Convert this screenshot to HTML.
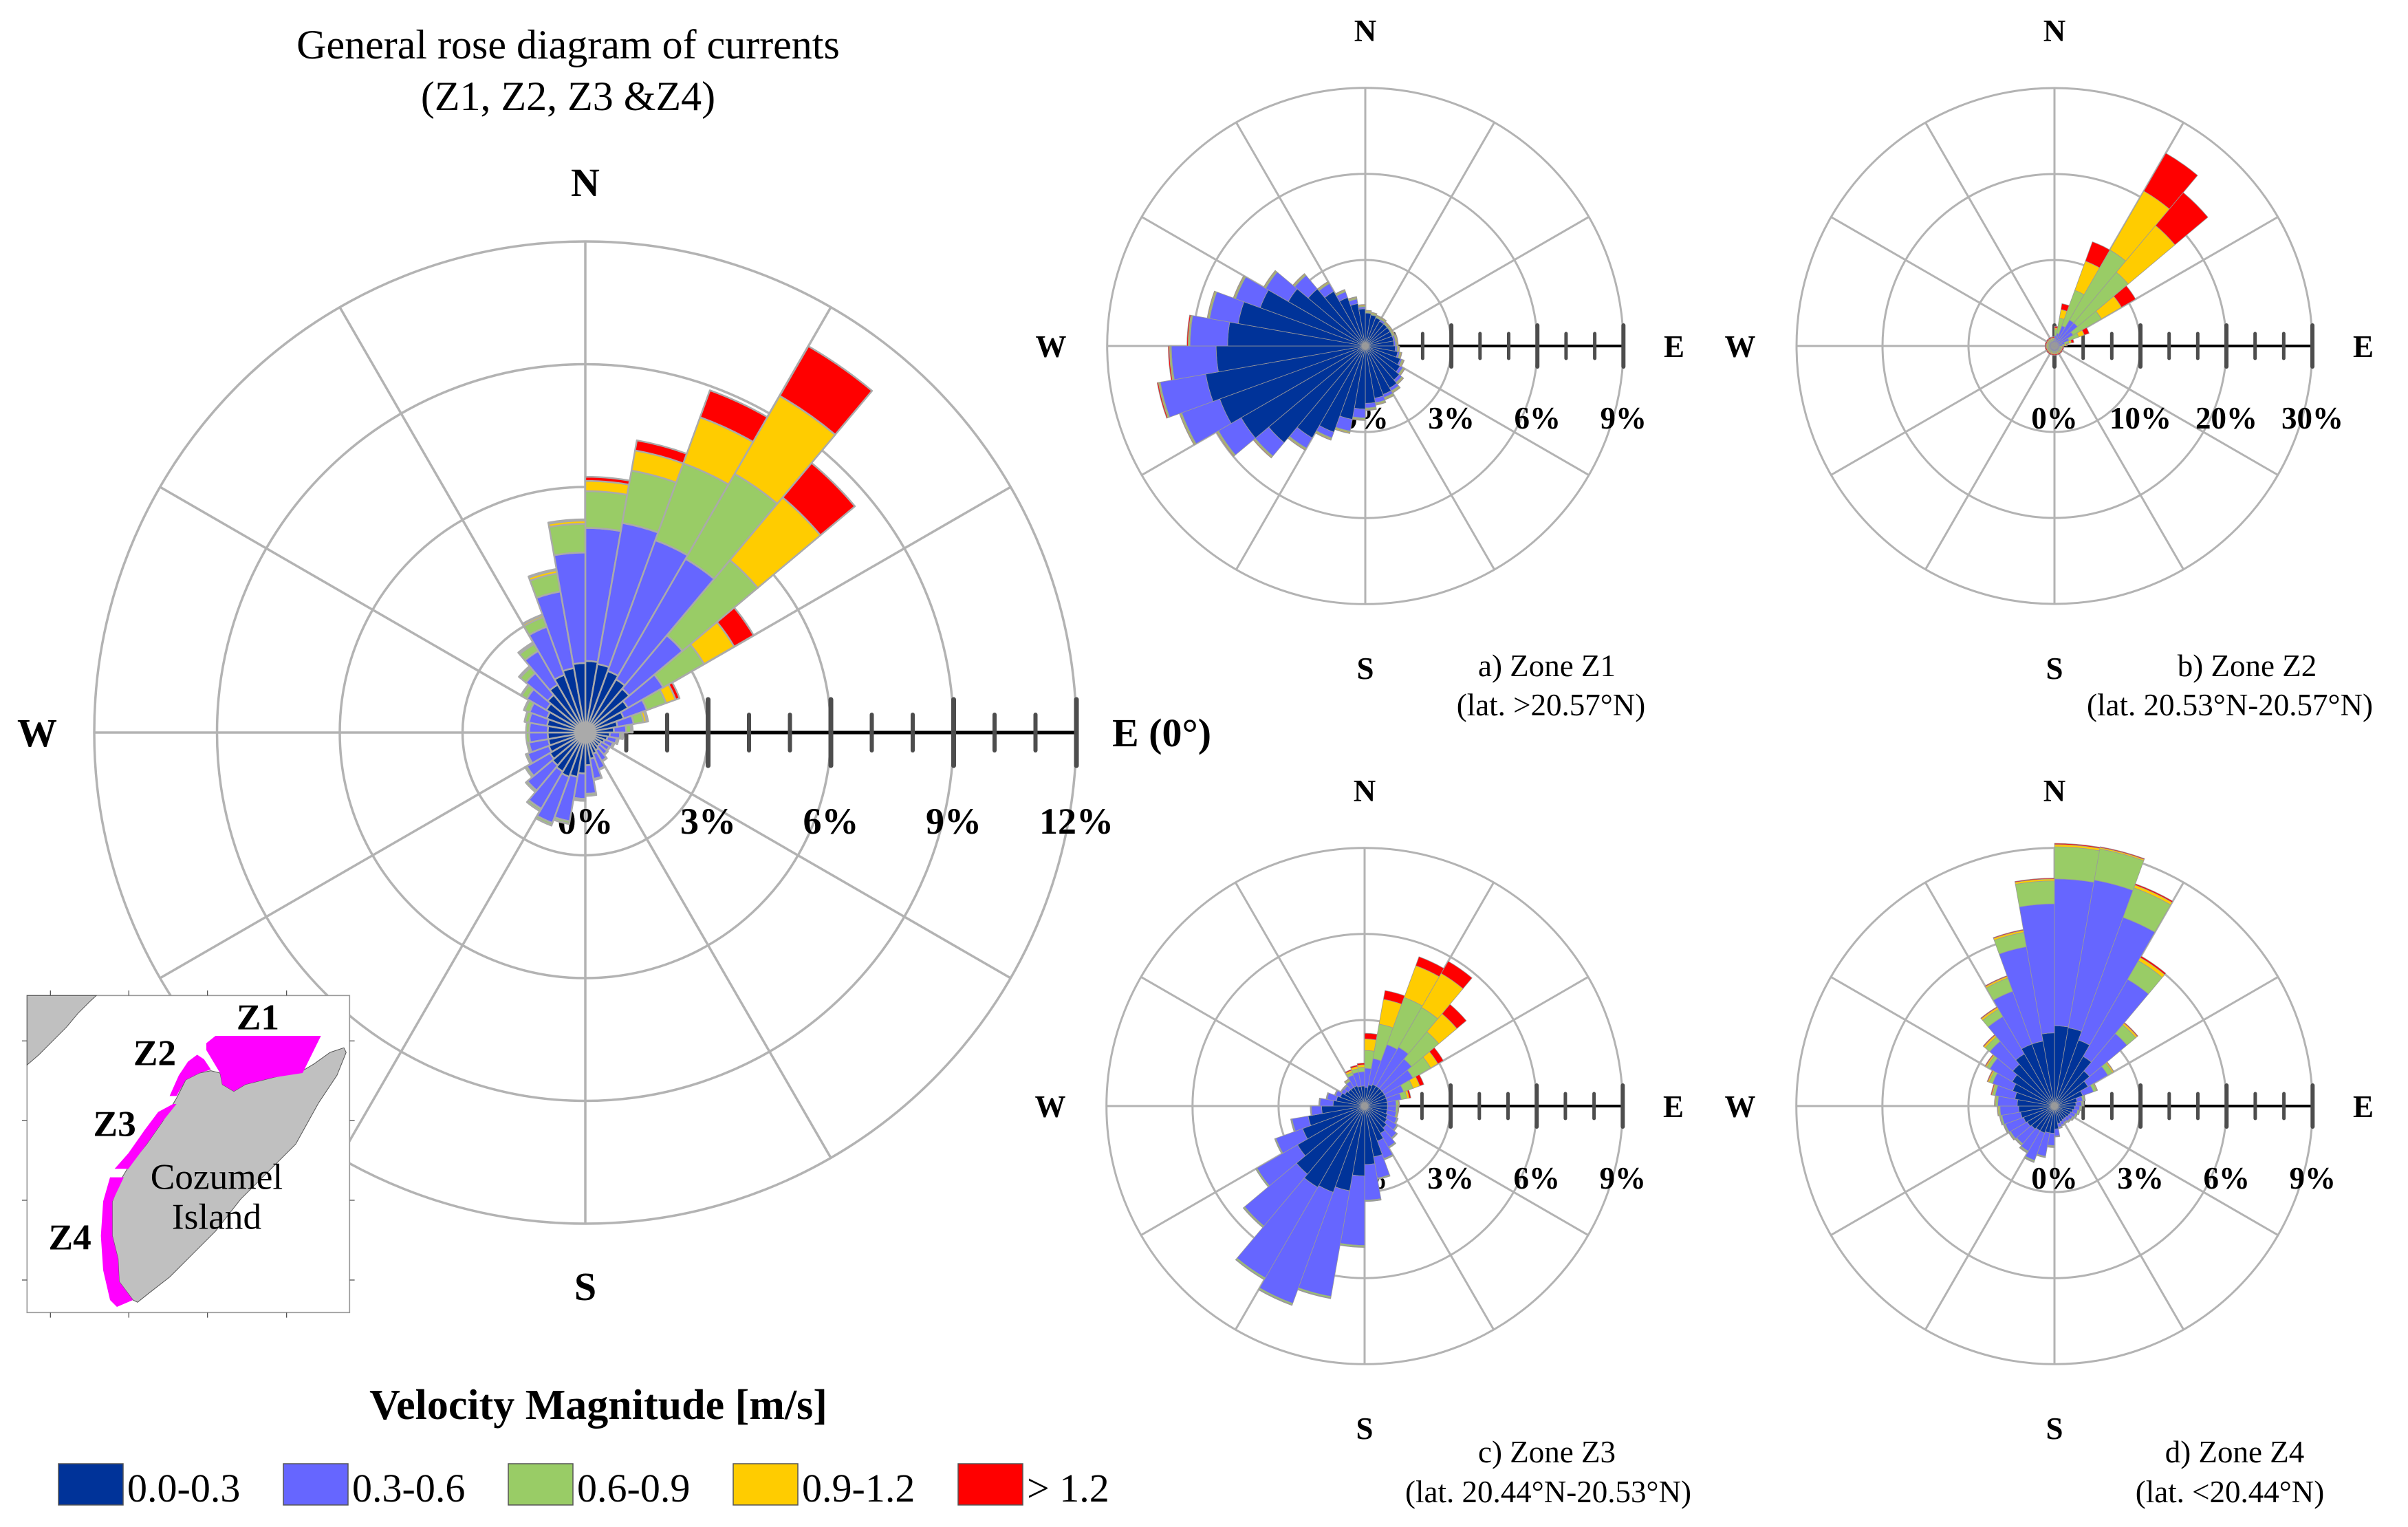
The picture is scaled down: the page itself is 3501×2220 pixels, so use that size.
<!DOCTYPE html>
<html><head><meta charset="utf-8"><style>
html,body{margin:0;padding:0;background:#fff;}
svg, svg text{font-family:"Liberation Serif","Times New Roman",serif;}
</style></head><body>
<svg id="fig" width="3501" height="2215" viewBox="0 0 3501 2215" xmlns="http://www.w3.org/2000/svg" font-family="'Liberation Serif', 'Times New Roman', serif">
<rect x="0" y="0" width="3501" height="2215" fill="#fff"/>
<g id="layer-grid"></g>
<g id="layer-text"></g>
<g id="layer-bars"></g>
<text x="826" y="85" font-size="60" font-family="'Liberation Serif', serif" text-anchor="middle">General rose diagram of currents</text>
<text x="826" y="160" font-size="60" font-family="'Liberation Serif', serif" text-anchor="middle">(Z1, Z2, Z3 &amp;Z4)</text>

<g transform="translate(30,1430) scale(0.3333)">
<rect x="28" y="52" width="1407" height="1383" fill="#fff" stroke="#999" stroke-width="5"/>
<polygon points="28,52 330,52 300,80 250,130 200,190 140,250 80,310 28,355" fill="#c0c0c0" stroke="#555" stroke-width="3"/>
<polygon points="1410,280 1420,300 1380,400 1300,520 1200,700 1100,800 960,940 850,1080 750,1180 650,1280 560,1350 510,1390 490,1380 430,1300 425,1200 400,1100 400,950 440,850 470,800 550,700 620,600 680,500 720,420 780,390 830,380 870,390 880,440 930,470 980,440 1100,410 1230,380 1280,350 1350,300" fill="#c0c0c0" stroke="#555" stroke-width="3"/>
<polygon points="850,228 1310,228 1230,390 1100,410 980,440 930,470 880,440 870,390 810,290 810,260" fill="#ff00ff"/>
<polygon points="770,310 800,330 830,375 780,390 720,420 680,490 650,490 690,400 730,340" fill="#ff00ff"/>
<polygon points="665,525 680,525 620,600 550,700 470,808 410,808 470,740 540,640 600,560" fill="#ff00ff"/>
<polygon points="390,845 450,845 400,950 400,1100 425,1200 430,1300 490,1380 420,1410 390,1380 360,1250 350,1100 360,950" fill="#ff00ff"/>
<g stroke="#555" stroke-width="4">
<line x1="130" y1="30" x2="130" y2="52"/><line x1="472" y1="30" x2="472" y2="52"/><line x1="815" y1="30" x2="815" y2="52"/><line x1="1160" y1="30" x2="1160" y2="52"/>
<line x1="130" y1="1435" x2="130" y2="1457"/><line x1="472" y1="1435" x2="472" y2="1457"/><line x1="815" y1="1435" x2="815" y2="1457"/><line x1="1160" y1="1435" x2="1160" y2="1457"/>
<line x1="6" y1="250" x2="28" y2="250"/><line x1="6" y1="598" x2="28" y2="598"/><line x1="6" y1="945" x2="28" y2="945"/><line x1="6" y1="1293" x2="28" y2="1293"/>
<line x1="1435" y1="250" x2="1457" y2="250"/><line x1="1435" y1="598" x2="1457" y2="598"/><line x1="1435" y1="945" x2="1457" y2="945"/><line x1="1435" y1="1293" x2="1457" y2="1293"/>
</g>
<text x="1035" y="200" font-size="160" font-family="'Liberation Serif', serif" font-weight="bold" text-anchor="middle">Z1</text>
<text x="585" y="355" font-size="160" font-family="'Liberation Serif', serif" font-weight="bold" text-anchor="middle">Z2</text>
<text x="410" y="665" font-size="160" font-family="'Liberation Serif', serif" font-weight="bold" text-anchor="middle">Z3</text>
<text x="215" y="1160" font-size="160" font-family="'Liberation Serif', serif" font-weight="bold" text-anchor="middle">Z4</text>
<text x="855" y="895" font-size="160" font-family="'Liberation Serif', serif" text-anchor="middle">Cozumel</text>
<text x="855" y="1070" font-size="160" font-family="'Liberation Serif', serif" text-anchor="middle">Island</text>
</g>

<g>
<text x="870" y="2063" font-size="62" font-family="'Liberation Serif', serif" font-weight="bold" text-anchor="middle">Velocity Magnitude [m/s]</text>
<g id="legend-items"></g>
</g>
</svg>
<script>
// ---- data: percent of occurrences per 10-degree direction bin (bin i = [10i,10i+10] deg from N, clockwise) ----
const classLabels = ['0.0-0.3','0.3-0.6','0.6-0.9','0.9-1.2','> 1.2'];
const classColors = ['#003399','#6666ff','#99cc66','#ffcc00','#ff0000'];

// General rose: per-class percentages
const mainC1 = [1.75,1.7,1.6,1.5,1.4,1.2,1.0,0.8,0.7,0.6,0.55,0.5,0.45,0.45,0.5,0.55,0.65,0.8,1.0,1.1,1.15,1.1,1.05,1.0,0.95,0.92,0.92,0.92,0.95,1.0,1.1,1.2,1.35,1.5,1.6,1.7];
const mainC2 = [3.25,3.5,3.4,3.4,1.7,1.0,0.6,0.4,0.3,0.25,0.23,0.22,0.23,0.25,0.3,0.4,0.5,0.7,0.62,1.1,1.2,1.05,0.8,0.65,0.55,0.48,0.45,0.45,0.45,0.45,0.55,0.7,0.95,1.25,1.9,2.7];
const mainC3 = [0.9,1.3,2.0,2.4,2.4,1.15,0.5,0.25,0.12,0.05,0.04,0.03,0.02,0.02,0.02,0.02,0.03,0.05,0.04,0.06,0.06,0.06,0.05,0.05,0.05,0.05,0.08,0.08,0.1,0.13,0.15,0.18,0.2,0.25,0.45,0.7];
const mainC4 = [0.25,0.5,1.2,2.2,2.0,0.85,0.25,0.07,0.03,0.02,0.01,0.01,0,0,0,0,0,0,0.01,0.01,0.01,0.01,0,0,0,0,0,0,0.01,0.02,0.02,0.03,0.04,0.05,0.08,0.08];
const mainC5 = [0.1,0.25,0.7,1.4,1.1,0.55,0.1,0.04,0.01,0.01,0,0,0,0,0,0,0,0,0,0,0,0,0,0,0,0,0,0,0,0,0,0.01,0.01,0.02,0.03,0.03];

// Zone Z1: per-class percentages
const z1C1 = [1.15,1.1,1.05,1.0,1.0,1.0,1.0,1.0,1.0,1.05,1.15,1.3,1.4,1.55,1.7,1.8,1.85,2.0,2.2,2.6,3.2,3.7,4.4,5.0,5.4,5.65,5.2,4.8,4.5,3.9,3.1,2.6,2.2,1.8,1.5,1.3];
const z1C2 = [0.01,0.01,0.01,0.06,0.01,0.01,0.01,0.06,0.06,0.06,0.06,0.06,0.11,0.11,0.11,0.11,0.16,0.16,0.31,0.41,0.21,0.41,0.61,0.91,1.41,1.61,1.56,1.31,1.01,0.91,0.91,0.61,0.31,0.21,0.16,0.06];
const z1C3 = [0.04,0.04,0.04,0.04,0.04,0.04,0.04,0.04,0.04,0.04,0.04,0.04,0.04,0.04,0.04,0.04,0.04,0.04,0.04,0.04,0.04,0.04,0.04,0.04,0.04,0.04,0.04,0.04,0.04,0.04,0.04,0.04,0.04,0.04,0.04,0.04];
const z1C4 = [0.03,0.03,0.03,0.03,0.03,0.03,0.03,0.03,0.03,0.03,0.03,0.03,0.03,0.03,0.03,0.03,0.03,0.03,0.03,0.03,0.03,0.03,0.03,0.03,0.03,0.03,0.03,0.03,0.03,0.03,0.03,0.03,0.03,0.03,0.03,0.03];
const z1C5 = [0.02,0.02,0.02,0.02,0.02,0.02,0.02,0.02,0.02,0.02,0.02,0.02,0.02,0.02,0.02,0.02,0.02,0.02,0.02,0.02,0.02,0.02,0.02,0.02,0.02,0.04,0.04,0.04,0.02,0.02,0.02,0.02,0.02,0.02,0.02,0.02];

// Zone Z2: per-class percentages
const z2C1 = [0.3,0.3,0.3,0.3,0.3,0.3,0.3,0.3,0.3,0.2,0.2,0.2,0.2,0.2,0.2,0.2,0.2,0.2,0.2,0.2,0.2,0.2,0.2,0.2,0.2,0.2,0.2,0.2,0.2,0.2,0.2,0.2,0.2,0.2,0.2,0.2];
const z2C2 = [0.9,1.2,2.2,3.2,3.2,2.2,1.5,0.9,0.6,0.4,0.4,0.4,0.4,0.4,0.4,0.4,0.4,0.4,0.4,0.4,0.4,0.4,0.4,0.4,0.4,0.4,0.4,0.4,0.4,0.4,0.4,0.4,0.4,0.4,0.4,0.4];
const z2C3 = [0.7,1.8,4.4,9.4,7.7,3.8,1.2,0.5,0.3,0.2,0.2,0.2,0.2,0.2,0.2,0.2,0.2,0.2,0.2,0.2,0.2,0.2,0.2,0.2,0.2,0.2,0.2,0.2,0.2,0.2,0.2,0.2,0.2,0.2,0.2,0.2];
const z2C4 = [0.2,1.0,3.6,7.9,7.1,2.7,0.7,0.3,0.2,0.15,0.15,0.15,0.15,0.15,0.15,0.15,0.15,0.15,0.15,0.15,0.15,0.15,0.15,0.15,0.15,0.15,0.15,0.15,0.15,0.15,0.15,0.15,0.15,0.15,0.15,0.15];
const z2C5 = [0.2,0.7,2.4,5.1,5.0,1.9,0.6,0.3,0.1,0.15,0.15,0.15,0.15,0.15,0.15,0.15,0.15,0.15,0.15,0.15,0.15,0.15,0.15,0.15,0.15,0.15,0.15,0.15,0.15,0.15,0.15,0.15,0.15,0.15,0.15,0.15];

// Zone Z3: cumulative stack tops (percent) per class
const z3Top1 = [0.65,0.75,0.8,0.8,0.8,0.8,0.8,0.8,0.8,0.8,0.8,0.85,0.9,1.0,1.1,1.3,1.8,2.04,2.44,3.0,3.2,3.27,3.1,2.7,2.3,2.0,1.5,1.1,1.0,0.9,0.8,0.75,0.75,0.75,0.7,0.7];
const z3Top2 = [1.32,1.68,2.28,2.37,2.14,1.95,1.45,1.3,1.1,1.1,1.12,1.2,1.3,1.45,1.65,1.95,2.55,3.28,4.86,6.74,7.32,6.92,5.46,4.33,3.29,2.57,1.86,1.56,1.33,1.08,0.94,0.92,1.0,1.15,1.2,1.2];
const z3Top3 = [1.94,2.9,4.03,3.97,3.38,2.66,1.8,1.5,1.17,1.15,1.16,1.23,1.33,1.48,1.68,1.98,2.58,3.31,4.91,6.79,7.37,6.97,5.5,4.37,3.32,2.6,1.88,1.58,1.35,1.1,0.96,0.95,1.05,1.25,1.32,1.35];
const z3Top4 = [2.34,3.78,5.21,5.34,4.2,2.95,2.05,1.58,1.2,1.18,1.19,1.24,1.34,1.49,1.69,1.99,2.59,3.32,4.92,6.81,7.39,6.99,5.52,4.38,3.33,2.61,1.89,1.59,1.36,1.11,0.97,0.97,1.08,1.32,1.4,1.44];
const z3Top5 = [2.54,4.09,5.54,5.83,4.63,3.17,2.2,1.64,1.22,1.2,1.2,1.25,1.35,1.5,1.7,2.0,2.6,3.33,4.93,6.82,7.4,7.0,5.53,4.39,3.34,2.62,1.9,1.6,1.37,1.12,0.98,0.98,1.1,1.36,1.45,1.5];

// Zone Z4: cumulative stack tops (percent) per class
const z4Top1 = [2.8,2.77,2.45,2.0,1.6,1.35,1.05,0.8,0.75,0.7,0.65,0.6,0.58,0.55,0.55,0.58,0.62,0.8,0.95,0.95,1.0,1.0,1.05,1.1,1.15,1.2,1.25,1.3,1.4,1.55,1.7,1.9,2.1,2.3,2.3,2.55];
const z4Top2 = [7.92,8.0,7.0,5.1,3.3,2.15,1.45,1.0,0.95,0.88,0.82,0.78,0.73,0.69,0.66,0.7,0.75,1.04,1.38,1.78,2.02,1.82,1.72,1.77,1.82,1.86,1.9,1.98,2.1,2.3,2.6,2.95,3.6,4.26,5.64,7.05];
const z4Top3 = [9.04,9.1,8.1,5.85,3.7,2.33,1.55,1.06,0.99,0.92,0.87,0.82,0.77,0.72,0.69,0.72,0.77,1.06,1.41,1.81,2.06,1.86,1.76,1.81,1.86,1.91,1.95,2.05,2.18,2.42,2.72,3.15,3.9,4.75,6.15,7.85];
const z4Top4 = [9.12,9.15,8.2,5.98,3.77,2.38,1.58,1.08,1.01,0.94,0.89,0.84,0.79,0.74,0.71,0.74,0.79,1.07,1.43,1.82,2.08,1.88,1.78,1.83,1.88,1.93,1.98,2.08,2.22,2.47,2.77,3.22,3.97,4.81,6.22,7.92];
const z4Top5 = [9.16,9.18,8.25,6.04,3.8,2.4,1.6,1.1,1.03,0.95,0.9,0.85,0.8,0.75,0.72,0.75,0.8,1.08,1.45,1.83,2.1,1.9,1.8,1.85,1.9,1.95,2.0,2.1,2.25,2.5,2.8,3.25,4.0,4.84,6.25,7.95];

// tick labels
const mainTickValues = [0,3,6,9,12];
const mainTickLabels = ['0%','3%','6%','9%','12%'];
const smallTickValues = [0,3,6,9];
const smallTickLabels = ['0%','3%','6%','9%'];
const z2TickValues = [0,10,20,30];
const z2TickLabels = ['0%','10%','20%','30%'];

const FONT="'Liberation Serif', 'Times New Roman', serif";
const NS='http://www.w3.org/2000/svg';
const gGrid=document.getElementById('layer-grid');
const gText=document.getElementById('layer-text');
const gBars=document.getElementById('layer-bars');
function mk(tag,attrs,parent){const e=document.createElementNS(NS,tag);for(const k in attrs)e.setAttribute(k,attrs[k]);parent.appendChild(e);return e;}
function pt(cx,cy,r,deg){const a=deg*Math.PI/180;return [cx+r*Math.sin(a),cy-r*Math.cos(a)];}

function cumulate(arrs){
  const out=[];let run=new Array(36).fill(0);
  for(const a of arrs){run=run.map((v,i)=>v+a[i]);out.push(run.slice());}
  return out;
}

function drawRose(cfg, tops){
  const {cx,cy,unit,maxV,ringVals,tickStep,axisStart,tickVals,tickLbls,big,name}=cfg;
  const rad=v=>v*unit;
  const g=mk('g',{},gGrid);
  
  
  const sw=big?3.5:3;
  for(const v of ringVals){
    const c=mk('circle',{cx:cx,cy:cy,r:rad(v),fill:'none',stroke:'#b3b3b3','stroke-width':sw},g);
    
    
  }
  for(let d=0;d<360;d+=30){
    const p=pt(cx,cy,rad(maxV),d);
    const l=mk('line',{x1:cx,y1:cy,x2:p[0],y2:p[1],stroke:'#b3b3b3','stroke-width':sw},g);
    
    
  }
  const ax=mk('line',{x1:cx+rad(axisStart),y1:cy,x2:cx+rad(maxV),y2:cy,stroke:'#000','stroke-width':big?5:4},g);
  
  
  const nT=Math.round(maxV/tickStep);
  for(let i=0;i<=nT;i++){
    const v=i*tickStep; if(v<axisStart-1e-6) continue;
    const major=ringVals.some(r=>Math.abs(r-v)<1e-6)||v===0;
    const h=big?(major?48:26):(major?30:18);
    const x=cx+rad(v);
    const t=mk('line',{x1:x,y1:cy-h,x2:x,y2:cy+h,stroke:'#4d4d4d','stroke-width':big?(major?7:6):(major?6:5),'stroke-linecap':'round'},g);
    
    
  }
  tickVals.forEach((v,i)=>{
    const t=mk('text',{x:cx+rad(v),y:cy+cfg.lblDy,'font-size':cfg.lblSize,'font-family':FONT,'font-weight':'bold','text-anchor':'middle'},gText);
    t.textContent=tickLbls[i];
    
    
  });
  const gb=mk('g',{},gBars);
  
  
  for(let b=0;b<36;b++){
    const a0=b*10,a1=b*10+10;
    let prev=0;
    for(let k=0;k<5;k++){
      const top=tops[k][b];
      if(top-prev<=0.0001){prev=Math.max(prev,top);continue;}
      const r0=rad(prev),r1=rad(top);
      const p1=pt(cx,cy,r1,a0),p2=pt(cx,cy,r1,a1),p3=pt(cx,cy,r0,a1),p4=pt(cx,cy,r0,a0);
      let d='M'+p1[0].toFixed(2)+','+p1[1].toFixed(2)+' A'+r1+','+r1+' 0 0 1 '+p2[0].toFixed(2)+','+p2[1].toFixed(2)+' L'+p3[0].toFixed(2)+','+p3[1].toFixed(2);
      if(r0>0.01) d+=' A'+r0+','+r0+' 0 0 0 '+p4[0].toFixed(2)+','+p4[1].toFixed(2);
      d+=' Z';
      const s=mk('path',{d:d,fill:classColors[k],stroke:big?'#aaaaaa':'#9a9a9a','stroke-width':big?2.5:0.8,'stroke-linejoin':'round'},gb);
      
      
      prev=top;
    }
  }
  if(big){
    const c=mk('circle',{cx:cx,cy:cy,r:16,fill:'#aaaaaa'},gb);
    
    
  }
}

drawRose({cx:851,cy:1065,unit:59.5,maxV:12,ringVals:[3,6,9,12],tickStep:1,axisStart:1,tickVals:mainTickValues,tickLbls:mainTickLabels,big:true,name:'general-rose',lblDy:147,lblSize:54},
  cumulate([mainC1,mainC2,mainC3,mainC4,mainC5]));
drawRose({cx:1985,cy:503,unit:41.7,maxV:9,ringVals:[3,6,9],tickStep:1,axisStart:1,tickVals:smallTickValues,tickLbls:smallTickLabels,big:false,name:'zone-z1-rose',lblDy:120,lblSize:45},
  cumulate([z1C1,z1C2,z1C3,z1C4,z1C5]));
drawRose({cx:2987,cy:503,unit:12.5,maxV:30,ringVals:[10,20,30],tickStep:10/3,axisStart:0,tickVals:z2TickValues,tickLbls:z2TickLabels,big:false,name:'zone-z2-rose',lblDy:120,lblSize:45},
  cumulate([z2C1,z2C2,z2C3,z2C4,z2C5]));
drawRose({cx:1984,cy:1608,unit:41.7,maxV:9,ringVals:[3,6,9],tickStep:1,axisStart:1,tickVals:smallTickValues,tickLbls:smallTickLabels,big:false,name:'zone-z3-rose',lblDy:120,lblSize:45},
  [z3Top1,z3Top2,z3Top3,z3Top4,z3Top5]);
drawRose({cx:2987,cy:1608,unit:41.7,maxV:9,ringVals:[3,6,9],tickStep:1,axisStart:1,tickVals:smallTickValues,tickLbls:smallTickLabels,big:false,name:'zone-z4-rose',lblDy:120,lblSize:45},
  [z4Top1,z4Top2,z4Top3,z4Top4,z4Top5]);

function label(txt,x,y,size,anchor,name,weight){
  const t=mk('text',{x:x,y:y,'font-size':size,'font-family':FONT,'font-weight':weight||'bold','text-anchor':anchor},document.getElementById('fig'));
  t.textContent=txt;
  
  
}
label('N',851,285,58,'middle','general-north-label');
label('W',54,1085,58,'middle','general-west-label');
label('E (0°)',1617,1085,58,'start','general-east-label');
label('S',851,1890,58,'middle','general-south-label');
const smalls=[[1985,503,'z1'],[2987,503,'z2'],[1984,1608,'z3'],[2987,1608,'z4']];
for(const [cx,cy,n] of smalls){
  label('N',cx,cy-443,45,'middle',n+'-north-label');
  label('W',cx-457,cy+16,45,'middle',n+'-west-label');
  label('E',cx+449,cy+16,45,'middle',n+'-east-label');
  label('S',cx,cy+484,45,'middle',n+'-south-label');
}
label('a) Zone Z1',2249,983,45,'middle','caption-z1','normal');
label('(lat. >20.57°N)',2255,1040,45,'middle','caption-z1-lat','normal');
label('b) Zone Z2',3267,983,45,'middle','caption-z2','normal');
label('(lat. 20.53°N-20.57°N)',3242,1040,45,'middle','caption-z2-lat','normal');
label('c) Zone Z3',2249,2126,45,'middle','caption-z3','normal');
label('(lat. 20.44°N-20.53°N)',2251,2184,45,'middle','caption-z3-lat','normal');
label('d) Zone Z4',3249,2126,45,'middle','caption-z4','normal');
label('(lat. <20.44°N)',3242,2184,45,'middle','caption-z4-lat','normal');

const li=document.getElementById('legend-items');
classLabels.forEach((lab,i)=>{
  const x=85+i*327;
  const r=mk('rect',{x:x,y:2128,width:94,height:60,fill:classColors[i],stroke:'#555','stroke-width':1.5},li);
  
  
  const t=mk('text',{x:x+100,y:2183,'font-size':58,'font-family':FONT},li);
  t.textContent=lab;
  
  
});
</script>
</body></html>
